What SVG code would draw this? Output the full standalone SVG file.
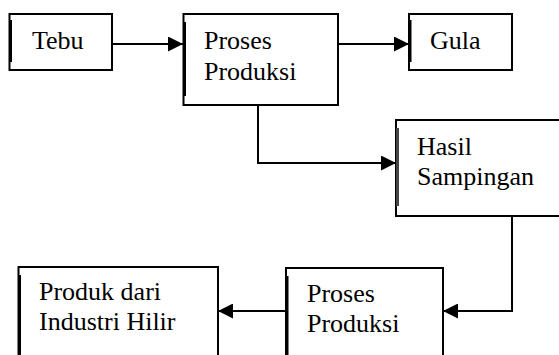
<svg xmlns="http://www.w3.org/2000/svg" width="559" height="355" viewBox="0 0 559 355">
<style>
.box{fill:#fff;stroke:#000;stroke-width:2}
.edge{stroke:#000;stroke-width:3}
.t{font-family:'Liberation Serif','DejaVu Serif',serif;font-size:26px;fill:#000}
.c{fill:none;stroke:#000;stroke-width:2}
</style>
<defs>
<marker id="ah" viewBox="0 0 15 15" refX="15" refY="7.5" markerWidth="15" markerHeight="15" markerUnits="userSpaceOnUse" orient="auto">
<path d="M0,0 L15,7.5 L0,15 Z" fill="#000"/>
</marker>
</defs>
<rect width="559" height="355" fill="#fff"/>
<g id="tebu">
<rect class="box" x="9.5" y="14" width="102.5" height="56"/>
<line class="edge" x1="10.5" y1="20" x2="10.5" y2="62"/>
<text class="t" x="32" y="49" font-family="Liberation Serif, serif">Tebu</text>
</g>
<g id="proses1">
<rect class="box" x="183.5" y="14" width="154.5" height="91"/>
<line class="edge" x1="184.5" y1="22" x2="184.5" y2="96"/>
<text class="t" x="204" y="49">Proses</text>
<text class="t" x="204" y="79.5">Produksi</text>
</g>
<g id="gula">
<rect class="box" x="409" y="14" width="103" height="56"/>
<line class="edge" x1="410" y1="20" x2="410" y2="62"/>
<text class="t" x="430" y="49">Gula</text>
</g>
<g id="hasil">
<rect class="box" x="396" y="120" width="170" height="96"/>
<line x1="397.5" y1="128" x2="397.5" y2="206" stroke="#444" stroke-width="3"/>
<text class="t" x="417" y="155">Hasil</text>
<text class="t" x="417" y="185">Sampingan</text>
</g>
<g id="proses2">
<rect class="box" x="286" y="268" width="157" height="100"/>
<line class="edge" x1="287" y1="276" x2="287" y2="360"/>
<text class="t" x="307" y="302">Proses</text>
<text class="t" x="307" y="332">Produksi</text>
</g>
<g id="produk">
<rect class="box" x="18.5" y="267" width="199.5" height="100"/>
<line class="edge" x1="19.5" y1="275" x2="19.5" y2="360"/>
<text class="t" x="39" y="300">Produk dari</text>
<text class="t" x="39" y="330">Industri Hilir</text>
</g>
<g id="connectors">
<path class="c" d="M112,44 H183" marker-end="url(#ah)"/>
<path class="c" d="M338,44 H409" marker-end="url(#ah)"/>
<path class="c" d="M258,105 V163 H396" marker-end="url(#ah)"/>
<path class="c" d="M512,216 V311 H443" marker-end="url(#ah)"/>
<path class="c" d="M286,311 H218" marker-end="url(#ah)"/>
</g>
</svg>
